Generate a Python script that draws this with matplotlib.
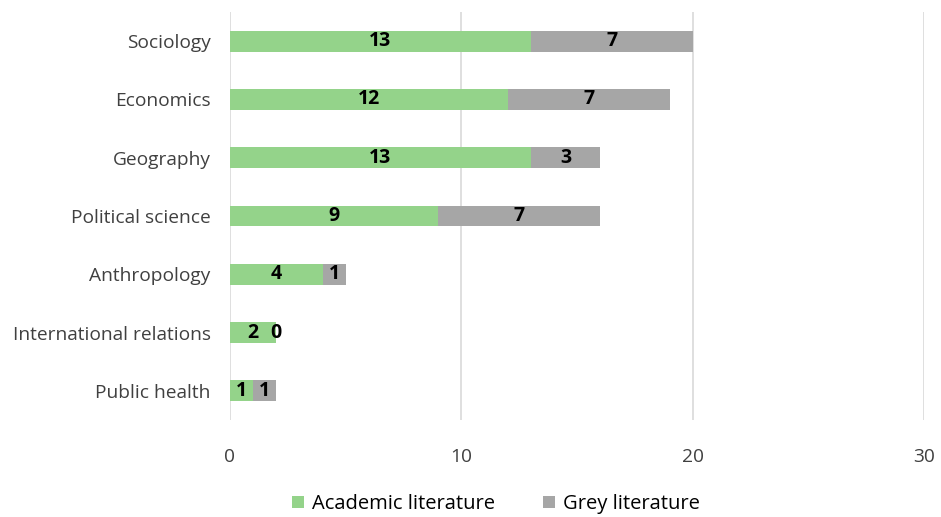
import matplotlib
matplotlib.use("Agg")
import matplotlib.pyplot as plt
import numpy as np

# disciplines, top to bottom as shown
categories = ["Sociology", "Economics", "Geography", "Political science",
              "Anthropology", "International relations", "Public health"]
academic = [13, 12, 13, 9, 4, 2, 1]
grey = [7, 7, 3, 7, 1, 0, 1]

green = "#94D38A"
grey_c = "#A6A6A6"

plt.rcParams['font.family'] = ['Open Sans', 'DejaVu Sans']

fig = plt.figure(figsize=(9.41, 5.17), dpi=100)
ax = fig.add_axes([0.2444, 0.1876, 0.7376, 0.7892])

y = np.arange(len(categories))[::-1]
b1 = ax.barh(y, academic, height=0.36, color=green, label="Academic literature")
b2 = ax.barh(y, grey, left=academic, height=0.36, color=grey_c, label="Grey literature")

for bars, vals, lefts in [(b1, academic, [0]*len(academic)), (b2, grey, academic)]:
    for yy, v, l in zip(y, vals, lefts):
        ax.text(l + v / 2, yy, str(v), ha="center", va="center",
                fontsize=14, fontweight="bold", color="black")

ax.set_xlim(0, 30)
ax.set_ylim(-0.5, 6.5)
ax.set_xticks([0, 10, 20, 30])
ax.set_yticks(y)
ax.set_yticklabels(categories)
ax.tick_params(axis="both", length=0, labelsize=13.8, colors="#404040")
ax.tick_params(axis="x", pad=20)
ax.tick_params(axis="y", pad=14)
ax.xaxis.grid(True, color="#D9D9D9", linewidth=1.2)
ax.set_axisbelow(True)
for s in ax.spines.values():
    s.set_visible(False)

fig.legend(handles=[b1, b2], loc="center", bbox_to_anchor=(0.527, 0.025), ncol=2,
           frameon=False, fontsize=14.5, handlelength=0.6, handleheight=0.6,
           columnspacing=2.4, handletextpad=0.4)

fig.savefig("out.png", dpi=100)
